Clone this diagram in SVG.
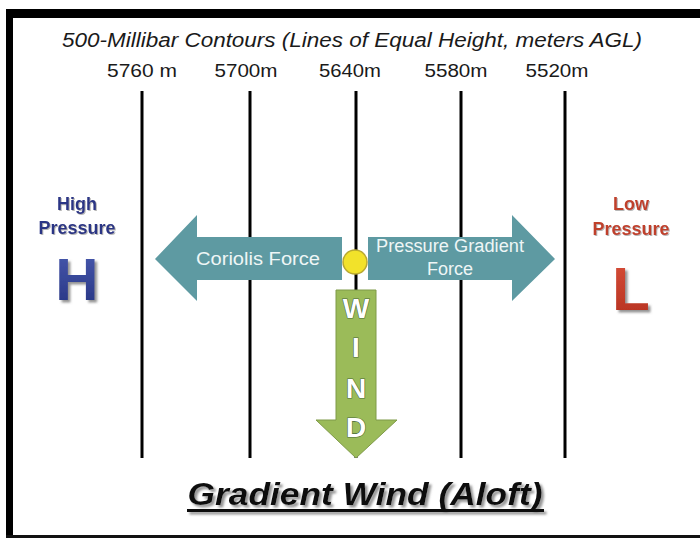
<svg xmlns="http://www.w3.org/2000/svg" width="700" height="538" viewBox="0 0 700 538">
<defs>
<style>
.t{font-family:"Liberation Sans",Arial,sans-serif}
.hdr{font-size:20px;font-style:italic;fill:#1a1a1a}
.lbl{font-size:18px;fill:#1a1a1a}
.contour{stroke:#000;stroke-width:3}
.force{fill:#5e9aa2}
.ftxt{font-size:18px;fill:#eef6f6}
.wl{font-size:28px;font-weight:bold;fill:#fff;stroke:#4a6a3a;stroke-width:1.2;paint-order:stroke}
</style>
<filter id="sh" x="-10%" y="-10%" width="130%" height="140%">
<feDropShadow dx="2.5" dy="2.5" stdDeviation="1" flood-color="#888" flood-opacity="0.9"/>
</filter>
<filter id="shs" x="-10%" y="-10%" width="130%" height="140%">
<feDropShadow dx="1" dy="1" stdDeviation="0.6" flood-color="#999" flood-opacity="0.7"/>
</filter>
<linearGradient id="hg" x1="0" y1="0" x2="0" y2="1">
<stop offset="0" stop-color="#4a5bb0"/><stop offset="1" stop-color="#243280"/>
</linearGradient>
<linearGradient id="lg" x1="0" y1="0" x2="0" y2="1">
<stop offset="0" stop-color="#d9503a"/><stop offset="1" stop-color="#b4301f"/>
</linearGradient>
</defs>
<rect x="0" y="0" width="700" height="538" fill="#fff"/>
<g id="frame">
<rect x="6" y="9" width="694" height="9" fill="#000"/>
<rect x="6" y="9" width="7" height="529" fill="#000"/>
<rect x="6" y="535" width="694" height="3" fill="#111"/>
</g>
<g id="header" class="t">
<text class="hdr" x="352" y="47" text-anchor="middle" textLength="580" lengthAdjust="spacingAndGlyphs">500-Millibar  Contours (Lines of Equal Height,  meters AGL)</text>
</g>
<g id="contours">
<line class="contour" x1="142" y1="91" x2="142" y2="458"/>
<line class="contour" x1="250" y1="91" x2="250" y2="458"/>
<line class="contour" x1="356" y1="91" x2="356" y2="458"/>
<line class="contour" x1="461" y1="91" x2="461" y2="458"/>
<line class="contour" x1="565" y1="91" x2="565" y2="458"/>
</g>
<g id="contour-labels" class="t">
<text class="lbl" x="142" y="77" text-anchor="middle" textLength="70" lengthAdjust="spacingAndGlyphs">5760 m</text>
<text class="lbl" x="246" y="77" text-anchor="middle" textLength="63" lengthAdjust="spacingAndGlyphs">5700m</text>
<text class="lbl" x="350" y="77" text-anchor="middle" textLength="62" lengthAdjust="spacingAndGlyphs">5640m</text>
<text class="lbl" x="456" y="77" text-anchor="middle" textLength="63" lengthAdjust="spacingAndGlyphs">5580m</text>
<text class="lbl" x="557" y="77" text-anchor="middle" textLength="63" lengthAdjust="spacingAndGlyphs">5520m</text>
</g>
<g id="high" class="t">
<text x="77" y="210" text-anchor="middle" font-size="18" font-weight="bold" fill="#2b3585" filter="url(#shs)">High</text>
<text x="77" y="234" text-anchor="middle" font-size="18" font-weight="bold" fill="#2b3585" filter="url(#shs)">Pressure</text>
<text x="77" y="300" text-anchor="middle" font-size="60" font-weight="bold" fill="url(#hg)" filter="url(#sh)">H</text>
</g>
<g id="low" class="t">
<text x="631" y="210" text-anchor="middle" font-size="18" font-weight="bold" fill="#c0402c" filter="url(#shs)">Low</text>
<text x="631" y="235" text-anchor="middle" font-size="18" font-weight="bold" fill="#c0402c" filter="url(#shs)">Pressure</text>
<text x="631" y="310" text-anchor="middle" font-size="62" font-weight="bold" fill="url(#lg)" filter="url(#sh)">L</text>
</g>
<g id="coriolis">
<polygon class="force" points="342,237 197,237 197,215 155,259 197,301 197,280 342,280"/>
<text class="t ftxt" x="258" y="265" text-anchor="middle" textLength="124" lengthAdjust="spacingAndGlyphs">Coriolis Force</text>
</g>
<g id="pgf">
<polygon class="force" points="368,237 512,237 512,215 555,259 512,301 512,280 368,280"/>
<text class="t ftxt" x="450" y="252" text-anchor="middle" font-size="17" textLength="148" lengthAdjust="spacingAndGlyphs">Pressure Gradient</text>
<text class="t ftxt" x="450" y="275" text-anchor="middle" font-size="17">Force</text>
</g>
<g id="wind">
<polygon points="336,290 376,290 376,420 397,420 356,458 316,420 336,420" fill="#9bbb59" stroke="#7f9a48" stroke-width="1"/>
<text class="t wl" x="356" y="318" text-anchor="middle">W</text>
<text class="t wl" x="356" y="357" text-anchor="middle">I</text>
<text class="t wl" x="356" y="398" text-anchor="middle">N</text>
<text class="t wl" x="356" y="437" text-anchor="middle">D</text>
</g>
<g id="parcel">
<circle cx="355" cy="262" r="12" fill="#f2e22a" stroke="#b8a830" stroke-width="1.5"/>
</g>
<g id="title" class="t" filter="url(#sh)">
<text x="365" y="505" text-anchor="middle" font-size="31" font-weight="bold" font-style="italic" fill="#111" textLength="355" lengthAdjust="spacingAndGlyphs">Gradient Wind (Aloft)</text>
<rect x="187" y="509" width="357" height="3" fill="#111"/>
</g>
</svg>
